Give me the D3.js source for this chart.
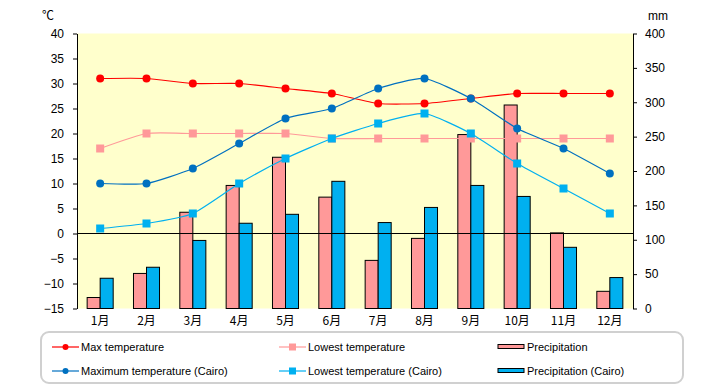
<!DOCTYPE html>
<html>
<head>
<meta charset="utf-8">
<style>
  body { margin: 0; background: #fff; }
  text { font-family: "Liberation Sans", "Noto Sans CJK JP", sans-serif; font-size: 11px; fill: #000; }
</style>
</head>
<body>
<div id="chart"></div>
<script src="https://cdn.jsdelivr.net/npm/d3@7"></script>
<script>
var months = ["1月","2月","3月","4月","5月","6月","7月","8月","9月","10月","11月","12月"];
var maxTemp      = [31, 31, 30, 30, 29, 28, 26, 26, 27, 28, 28, 28];
var lowTemp      = [17, 20, 20, 20, 20, 19, 19, 19, 19, 19, 19, 19];
var maxTempCairo = [10, 10, 13, 18, 23, 25, 29, 31, 27, 21, 17, 12];
var lowTempCairo = [1, 2, 4, 10, 15, 19, 22, 24, 20, 14, 9, 4];
var precip       = [16, 51, 140, 179, 220, 162, 70, 102, 253, 296, 110, 25];
var precipCairo  = [44, 60, 99, 124, 137, 185, 125, 147, 179, 163, 89, 45];
var leftTicks  = [-15, -10, -5, 0, 5, 10, 15, 20, 25, 30, 35, 40];
var rightTicks = [0, 50, 100, 150, 200, 250, 300, 350, 400];

var width = 720, height = 385;
var plotLeft = 77, plotRight = 633, plotTop = 33.5, plotBottom = 308.5;

var svg = d3.select("#chart").append("svg")
    .attr("width", width)
    .attr("height", height);

var x = d3.scaleBand().domain(months).range([plotLeft, plotRight]);
var xb = d3.scaleBand().domain(["a", "b"]).range([0, x.bandwidth()]).paddingOuter(0.78);
var yL = d3.scaleLinear().domain([-15, 40]).range([plotBottom, plotTop]);
var yR = d3.scaleLinear().domain([0, 400]).range([plotBottom, plotTop]);

// plot background
svg.append("rect")
    .attr("x", plotLeft).attr("y", plotTop)
    .attr("width", plotRight - plotLeft).attr("height", plotBottom - plotTop)
    .attr("fill", "#ffffcc");

// bars
var barSeries = [
    {key: "a", values: precip, color: "#ff9999"},
    {key: "b", values: precipCairo, color: "#00b0f0"}
];
barSeries.forEach(function (s) {
    svg.append("g").selectAll("rect")
        .data(s.values)
        .enter().append("rect")
        .attr("x", function (d, i) { return x(months[i]) + xb(s.key); })
        .attr("width", xb.bandwidth())
        .attr("y", function (d) { return yR(d); })
        .attr("height", function (d) { return yR(0) - yR(d); })
        .attr("fill", s.color)
        .attr("stroke", "#000")
        .attr("stroke-width", 1);
});

// zero line
svg.append("line")
    .attr("x1", plotLeft).attr("x2", plotRight)
    .attr("y1", yL(0)).attr("y2", yL(0))
    .attr("stroke", "#000");

// axes
var axisL = svg.append("g")
    .attr("transform", "translate(" + plotLeft + ",0)")
    .call(d3.axisLeft(yL).tickValues(leftTicks).tickSize(4).tickSizeOuter(0).tickPadding(9));
var axisR = svg.append("g")
    .attr("transform", "translate(" + plotRight + ",0)")
    .call(d3.axisRight(yR).tickValues(rightTicks).tickSize(4).tickSizeOuter(0).tickPadding(8));
[axisL, axisR].forEach(function (a) {
    a.selectAll("text").style("font-size", "12px").style("font-family", "'Liberation Sans', sans-serif");
});

svg.append("g").selectAll("text")
    .data(months)
    .enter().append("text")
    .attr("x", function (d) { return x(d) + x.bandwidth() / 2; })
    .attr("y", 325)
    .attr("text-anchor", "middle")
    .style("font-family", "'Noto Sans CJK JP', sans-serif")
    .style("font-size", "12px")
    .text(function (d) { return d; });

svg.append("text").attr("x", 42).attr("y", 20).text("℃")
    .style("font-family", "'Noto Sans CJK JP', sans-serif")
    .style("font-size", "12px");
svg.append("text").attr("x", 648).attr("y", 20).text("mm").style("font-size", "12px");

// lines
var lineSeries = [
    {values: lowTemp, color: "#ff9999", shape: "square"},
    {values: maxTemp, color: "#ff0000", shape: "circle"},
    {values: lowTempCairo, color: "#00b0f0", shape: "square"},
    {values: maxTempCairo, color: "#0070c0", shape: "circle"}
];
var line = d3.line()
    .x(function (d, i) { return x(months[i]) + x.bandwidth() / 2; })
    .y(function (d) { return yL(d); })
    .curve(d3.curveCardinal.tension(0.45));

lineSeries.forEach(function (s) {
    var g = svg.append("g");
    g.append("path")
        .attr("d", line(s.values))
        .attr("fill", "none")
        .attr("stroke", s.color)
        .attr("stroke-width", 1.2);
    s.values.forEach(function (v, i) {
        var cx = x(months[i]) + x.bandwidth() / 2, cy = yL(v);
        if (s.shape === "circle") {
            g.append("circle").attr("cx", cx).attr("cy", cy).attr("r", 4).attr("fill", s.color);
        } else {
            g.append("rect").attr("x", cx - 4).attr("y", cy - 4)
                .attr("width", 8).attr("height", 8).attr("fill", s.color);
        }
    });
});

// legend
svg.append("rect")
    .attr("x", 41).attr("y", 332)
    .attr("width", 642).attr("height", 51)
    .attr("rx", 8)
    .attr("fill", "#fff")
    .attr("stroke", "#d0d0d0")
    .attr("stroke-width", 2);

var legendItems = [
    {label: "Max temperature", color: "#ff0000", shape: "circle", lx: 52, ly: 347},
    {label: "Maximum temperature (Cairo)", color: "#0070c0", shape: "circle", lx: 52, ly: 371},
    {label: "Lowest temperature", color: "#ff9999", shape: "square", lx: 279, ly: 347},
    {label: "Lowest temperature (Cairo)", color: "#00b0f0", shape: "square", lx: 279, ly: 371},
    {label: "Precipitation", color: "#ff9999", shape: "bar", lx: 498, ly: 347},
    {label: "Precipitation (Cairo)", color: "#00b0f0", shape: "bar", lx: 498, ly: 371}
];
legendItems.forEach(function (d) {
    var g = svg.append("g");
    if (d.shape === "bar") {
        g.append("rect").attr("x", d.lx).attr("y", d.ly - 2.5)
            .attr("width", 26).attr("height", 4)
            .attr("fill", d.color).attr("stroke", "#000");
    } else {
        g.append("line").attr("x1", d.lx).attr("x2", d.lx + 27)
            .attr("y1", d.ly).attr("y2", d.ly)
            .attr("stroke", d.color).attr("stroke-width", 1.2);
        if (d.shape === "circle") {
            g.append("circle").attr("cx", d.lx + 13.5).attr("cy", d.ly).attr("r", 3).attr("fill", d.color);
        } else {
            g.append("rect").attr("x", d.lx + 10).attr("y", d.ly - 3.5)
                .attr("width", 7).attr("height", 7).attr("fill", d.color);
        }
    }
    g.append("text")
        .attr("x", d.lx + 29).attr("y", d.ly + 4)
        .text(d.label);
});
</script>
</body>
</html>
